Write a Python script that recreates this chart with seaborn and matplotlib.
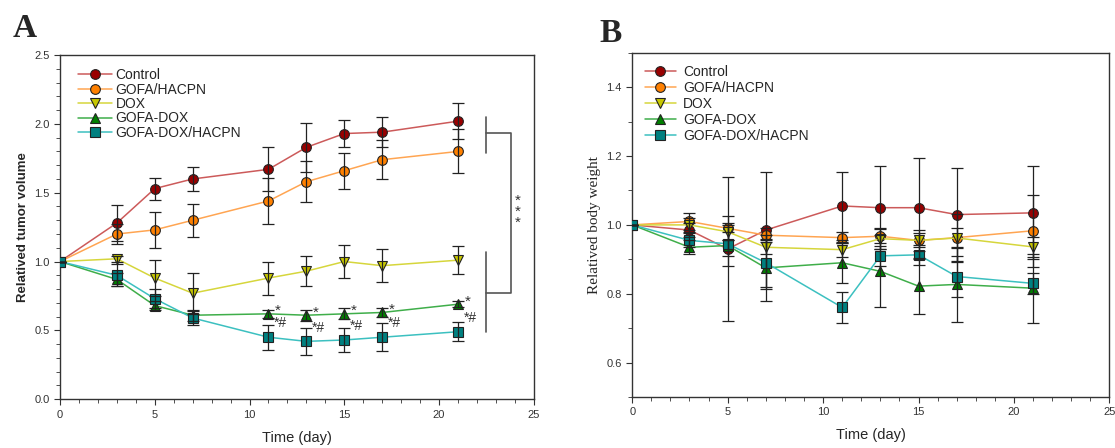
"""
tumor volume and body weight curves, two panels
"""

import matplotlib
matplotlib.use('AGG')
import matplotlib.pyplot as plt
from matplotlib.ticker import MultipleLocator
import pandas as pd
import seaborn as sns

days = [0, 3, 5, 7, 11, 13, 15, 17, 21]
groups = ['Control', 'GOFA/HACPN', 'DOX', 'GOFA-DOX', 'GOFA-DOX/HACPN']

# panel A - relative tumor volume
tumor_control = [1.00, 1.28, 1.53, 1.60, 1.67, 1.83, 1.93, 1.94, 2.02]
tumor_control_err = [0, 0.13, 0.08, 0.09, 0.16, 0.18, 0.10, 0.11, 0.13]
tumor_gofa_hacpn = [1.00, 1.20, 1.23, 1.30, 1.44, 1.58, 1.66, 1.74, 1.80]
tumor_gofa_hacpn_err = [0, 0.07, 0.13, 0.12, 0.17, 0.15, 0.13, 0.14, 0.16]
tumor_dox = [1.00, 1.02, 0.88, 0.77, 0.88, 0.93, 1.00, 0.97, 1.01]
tumor_dox_err = [0, 0.02, 0.13, 0.15, 0.12, 0.11, 0.12, 0.12, 0.10]
tumor_gofa_dox = [1.00, 0.87, 0.68, 0.61, 0.62, 0.61, 0.62, 0.63, 0.69]
tumor_gofa_dox_err = [0, 0.05, 0.03, 0.04, 0.03, 0.04, 0.04, 0.03, 0.02]
tumor_gofa_dox_hacpn = [1.00, 0.90, 0.73, 0.59, 0.45, 0.42, 0.43, 0.45, 0.49]
tumor_gofa_dox_hacpn_err = [0, 0.08, 0.07, 0.05, 0.09, 0.10, 0.09, 0.10, 0.07]

# panel B - relative body weight
weight_control = [1.00, 0.985, 0.93, 0.985, 1.055, 1.05, 1.05, 1.03, 1.035]
weight_control_err = [0, 0.02, 0.21, 0.17, 0.10, 0.12, 0.145, 0.135, 0.135]
weight_gofa_hacpn = [1.00, 1.01, 0.99, 0.97, 0.963, 0.967, 0.955, 0.963, 0.983]
weight_gofa_hacpn_err = [0, 0.025, 0.035, 0.02, 0.015, 0.02, 0.02, 0.07, 0.105]
weight_dox = [1.00, 1.00, 0.98, 0.935, 0.928, 0.96, 0.955, 0.962, 0.936]
weight_dox_err = [0, 0.02, 0.025, 0.02, 0.02, 0.03, 0.03, 0.03, 0.03]
weight_gofa_dox = [1.00, 0.935, 0.94, 0.875, 0.89, 0.865, 0.822, 0.827, 0.816]
weight_gofa_dox_err = [0, 0.02, 0.06, 0.095, 0.06, 0.105, 0.08, 0.11, 0.10]
weight_gofa_dox_hacpn = [1.00, 0.955, 0.945, 0.89, 0.76, 0.91, 0.913, 0.85, 0.83]
weight_gofa_dox_hacpn_err = [0, 0.02, 0.035, 0.07, 0.045, 0.03, 0.03, 0.06, 0.03]

# significance marks on panel A
star_days = [11, 13, 15, 17, 21]

line_colors = ['#cc5a5a', '#ffa552', '#d6d63c', '#3fae4a', '#3cc0c0']
face_colors = ['#990000', '#ff8000', '#c8c800', '#008000', '#008080']
markers = ['o', 'o', 'v', '^', 's']


def make_table(values, errors):
    rows = []
    for g, vals, errs in zip(groups, values, errors):
        for d, v, e in zip(days, vals, errs):
            rows.append({'day': d, 'group': g, 'value': v, 'err': e})
    return pd.DataFrame(rows)


tumor = make_table(
    [tumor_control, tumor_gofa_hacpn, tumor_dox, tumor_gofa_dox, tumor_gofa_dox_hacpn],
    [tumor_control_err, tumor_gofa_hacpn_err, tumor_dox_err, tumor_gofa_dox_err,
     tumor_gofa_dox_hacpn_err])
weight = make_table(
    [weight_control, weight_gofa_hacpn, weight_dox, weight_gofa_dox, weight_gofa_dox_hacpn],
    [weight_control_err, weight_gofa_hacpn_err, weight_dox_err, weight_gofa_dox_err,
     weight_gofa_dox_hacpn_err])

sns.set_style('ticks')
plt.rcParams['font.family'] = ['Liberation Sans', 'DejaVu Sans']

fig = plt.figure(figsize=(11.15, 4.48), dpi=100)
axA = fig.add_axes([0.0538, 0.109, 0.425, 0.768])
axB = fig.add_axes([0.567, 0.114, 0.428, 0.768])


def draw_panel(ax, data):
    for i, g in enumerate(groups):
        sub = data[data['group'] == g]
        sns.lineplot(data=sub, x='day', y='value', ax=ax, color=line_colors[i],
                     marker=markers[i], markersize=7, markerfacecolor=face_colors[i],
                     markeredgecolor='#222222', markeredgewidth=0.8, linewidth=1.1,
                     label=g, zorder=3)
        ax.errorbar(sub['day'], sub['value'], yerr=sub['err'], fmt='none',
                    ecolor='#222222', elinewidth=0.9, capsize=4, capthick=0.9, zorder=4)
    ax.set_xlim(0, 25)
    ax.xaxis.set_major_locator(MultipleLocator(5))
    ax.xaxis.set_minor_locator(MultipleLocator(1))
    for side in ['top', 'right', 'left', 'bottom']:
        ax.spines[side].set_visible(True)
        ax.spines[side].set_color('#333333')
        ax.spines[side].set_linewidth(1.0)
    ax.tick_params(which='both', direction='out', colors='#333333', labelsize=8,
                   top=False, right=False)
    ax.tick_params(which='major', length=4)
    ax.tick_params(which='minor', length=3)
    ax.set_xlabel('Time (day)', fontsize=10.5, labelpad=8)


draw_panel(axA, tumor)
axA.legend(loc='upper left', bbox_to_anchor=(0.038, 0.962), frameon=False, fontsize=10,
           handlelength=2.45, handletextpad=0.25, borderaxespad=0, borderpad=0,
           labelspacing=0.03)
axA.set_ylim(0, 2.5)
axA.yaxis.set_major_locator(MultipleLocator(0.5))
axA.yaxis.set_minor_locator(MultipleLocator(0.1))
axA.set_ylabel('Relatived tumor volume', fontsize=9.5, fontweight='bold')

for d in star_days:
    g = tumor[(tumor['group'] == 'GOFA-DOX') & (tumor['day'] == d)].iloc[0]
    axA.text(d + 0.35, g['value'] + 0.02, '*', fontsize=11, color='#333333',
             ha='left', va='center')
    t = tumor[(tumor['group'] == 'GOFA-DOX/HACPN') & (tumor['day'] == d)].iloc[0]
    axA.text(d + 0.3, t['value'] + 0.1, '*#', fontsize=10, color='#333333',
             ha='left', va='center')

# bracket between the groups
bk = dict(color='#555555', linewidth=1.2, clip_on=False)
axA.plot([22.47, 22.47], [1.79, 2.05], **bk)
axA.plot([22.47, 23.79, 23.79, 22.47], [1.935, 1.935, 0.775, 0.775], **bk)
axA.plot([22.47, 22.47], [0.49, 1.07], **bk)
axA.text(24.15, 1.36, '*\n*\n*', fontsize=11, color='#333333', ha='center',
         va='center', linespacing=0.75)

draw_panel(axB, weight)
axB.legend(loc='upper left', bbox_to_anchor=(0.027, 0.965), frameon=False, fontsize=10,
           handlelength=2.2, handletextpad=0.55, borderaxespad=0, borderpad=0,
           labelspacing=0.15)
axB.set_ylim(0.5, 1.5)
axB.yaxis.set_minor_locator(MultipleLocator(0.1))
axB.set_yticks([0.6, 0.8, 1.0, 1.2, 1.4])
axB.set_ylabel('Relatived body weight', fontsize=11, family='Liberation Serif')

fig.text(0.011, 0.917, 'A', fontsize=24, fontweight='bold', family='Liberation Serif',
         va='baseline')
fig.text(0.538, 0.906, 'B', fontsize=24, fontweight='bold', family='Liberation Serif',
         va='baseline')

fig.savefig('out.png', dpi=100)
plt.close()
